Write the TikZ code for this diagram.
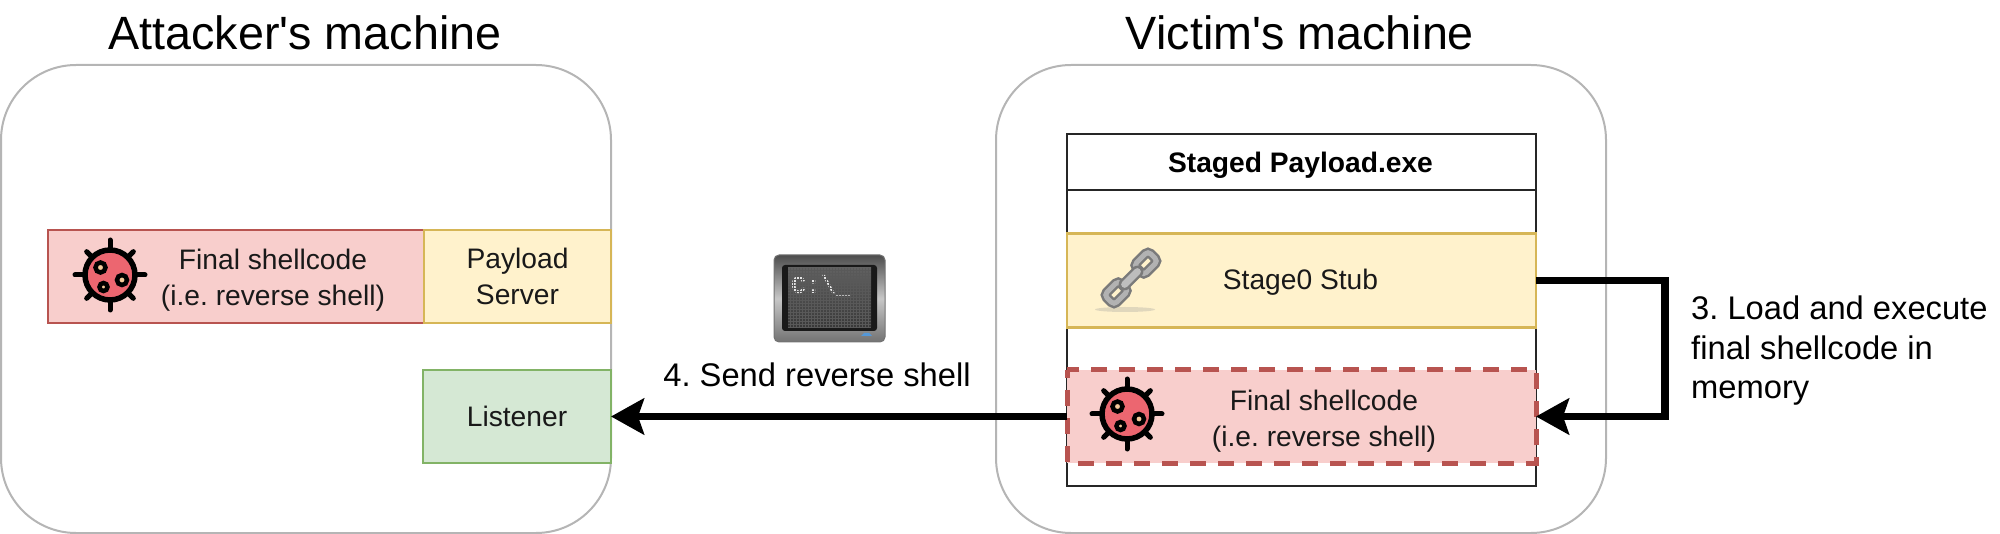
\documentclass[tikz,border=0pt]{standalone}
\usepackage{fontspec}
\setmainfont{Liberation Sans}
\newfontfamily\titlefont{Liberation Sans}
\newfontfamily\termfont{Liberation Mono}[BoldFont={Liberation Mono Bold}]
\usetikzlibrary{arrows.meta,shadings}
\newcommand{\fs}[2][36]{\fontsize{#2}{#1}\selectfont\frenchspacing}
\definecolor{redfill}{HTML}{F8CECC}\definecolor{redline}{HTML}{B85450}
\definecolor{yelfill}{HTML}{FFF2CC}\definecolor{yelline}{HTML}{D6B656}
\definecolor{grnfill}{HTML}{D5E8D4}\definecolor{grnline}{HTML}{82B366}
\definecolor{panelline}{HTML}{B5B5B5}\definecolor{bugred}{HTML}{EC6670}
\definecolor{bughole}{HTML}{F6C99A}
\tikzset{
 panel/.style={draw=panelline,line width=2pt,rounded corners=75pt,fill=white,minimum width=610pt,minimum height=468pt,inner sep=0pt,outer sep=0pt},
 title/.style={font=\titlefont\fs{46.7}},
 lab/.style={font=\fs{28.2},align=center,text=black!90},
 big/.style={font=\fs[39.5]{32.7},align=left,inner sep=0pt},
 box/.style={inner sep=0pt,outer sep=0pt,line width=2.6pt,font=\fs{28.2},align=center,text=black!90},
 redbox/.style={box,draw=redline,fill=redfill},
 yelbox/.style={box,draw=yelline,fill=yelfill},
 grnbox/.style={box,draw=grnline,fill=grnfill},
 outerbox/.style={draw=black!85,line width=2.6pt,fill=white,inner sep=0pt,outer sep=0pt},
 flow/.style={line width=7.5pt,draw=black,-{Stealth[length=33pt,width=36pt,inset=6pt]}},
 bug/.pic={
  \foreach \a in {0,45,...,315}{\draw[line width=5pt,line cap=round] (0,0) ++(\a:24) -- ++(\a:\ifodd\numexpr\a/45\relax 9\else 11\fi);}
  \draw[fill=bugred,line width=5.5pt] (0,0) circle (25);
  \foreach \p/\r in {{-9.5,-7.5}/7,{12,5}/7,{-6.5,12}/6}{\draw[fill=bughole,line width=4.5pt] (\p) circle (\r-2);}
 },
}
\begin{document}
\begin{tikzpicture}[x=1pt,y=-1pt]
\useasboundingbox (0,0) rectangle (2000,534);
% panels
\node[panel] (attacker) at (306,299) {};
\node[panel] (victim) at (1301,299) {};
\node[title] (t1) at (305,33) {Attacker's machine};
\node[title] (t2) at (1300,33) {Victim's machine};
% left boxes
\node[redbox,minimum width=376pt,minimum height=93pt] (fl) at (236,276.5) {};
\node[yelbox,minimum width=187pt,minimum height=93pt] (server) at (517.5,276.5) {Payload\\Server};
\node[grnbox,minimum width=188pt,minimum height=93pt] (listener) at (517,416.5) {Listener};
\node[lab] (fltext) at (273,280) {Final shellcode\\(i.e. reverse shell)};
% staged exe
\node[outerbox,minimum width=469pt,minimum height=352pt] (exe) at (1301.5,310) {};
\node[outerbox,minimum width=469pt,minimum height=56pt] (exehead) at (1301.5,162) {};
\node[font=\fs{28.2}\bfseries,text=black,inner sep=0pt] (exelabel) at (1300.5,165.5) {Staged Payload.exe};
\node[yelbox,minimum width=469pt,minimum height=94pt] (stub) at (1301.5,280.5) {};
\node[lab] (stublabel) at (1300.5,282) {Stage0 Stub};
\node[redbox,draw=none,minimum width=469pt,minimum height=93pt] (final) at (1301.5,416.5) {};
\draw[draw=redline,line width=5pt,dash pattern=on 16pt off 12pt,dash phase=8pt] (final.north west) rectangle (final.south east);
\node[lab] (finaltext) at (1324,421) {Final shellcode\\(i.e. reverse shell)};
% connectors
\draw[flow] (final.west) -- (listener.east);
\draw[flow] (stub.east) -- ++(129,0) |- (final.east);
\node[big] (l4) at (817,375) {4. Send reverse shell};
\node[big,anchor=west] (l3) at (1691,351) {3. Load and execute\\final shellcode in\\memory};
% bugs
\pic at (110,275) {bug};
\pic at (1127,414) {bug};
% terminal icon
\node[inner sep=0pt,outer sep=0pt,minimum width=111pt,minimum height=87pt,rounded corners=5pt,top color=black!70,bottom color=black!55,middle color=black!22,draw=black!55,line width=1pt] (term) at (829.5,298.5) {};
\fill[black!90,rounded corners=3pt] (782,265) rectangle (877,331);
\shade[top color=black!62,bottom color=black!78] (788,268) rectangle (871,327);
\node[inner sep=0pt,font=\termfont\bfseries\fontsize{25}{25}\selectfont,text=white!90!black,anchor=west] (prompt) at (791,286) {C:\textbackslash\_};
\foreach \x in {790,793,...,870}{\draw[black!65,line width=.9pt] (\x,268) -- (\x,327);}
\foreach \y in {270,273,...,327}{\draw[black!65,line width=.9pt] (788,\y) -- (871,\y);}
\fill[cyan!60!blue!70] (861,336) -- (864,333) -- (869,333) -- (872,336) -- cycle;
% chain icon
\fill[black!40,opacity=.3] (1125,309.5) ellipse (30 and 2.5);
\begin{scope}[rotate around={45:(1131,278)}]
\foreach \cx in {1110,1152}{
 \draw[black!52,line width=10pt,rounded corners=4pt] (\cx-10,271) rectangle (\cx+10,285);
 \draw[black!30,line width=5pt,rounded corners=4pt] (\cx-10,271) rectangle (\cx+10,285);
}
\draw[black!52,line width=12pt,line cap=round] (1122,278) -- (1140,278);
\draw[black!26,line width=7pt,line cap=round] (1122,278) -- (1140,278);
\end{scope}
\end{tikzpicture}
\end{document}
